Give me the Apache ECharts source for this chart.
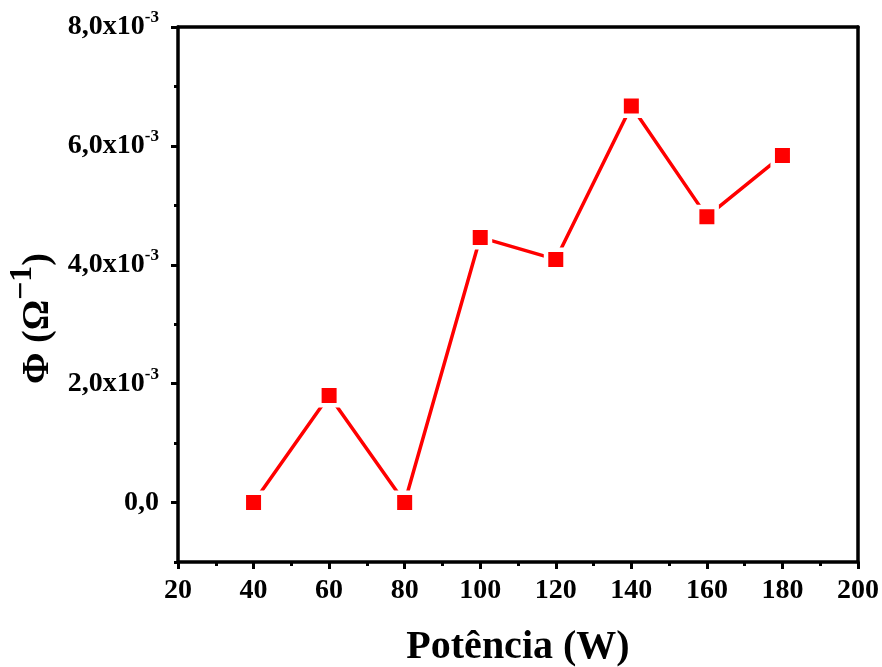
<!DOCTYPE html>
<html>
<head>
<meta charset="utf-8">
<script src="https://cdn.jsdelivr.net/npm/echarts@6/dist/echarts.min.js"></script>
<style>html,body{margin:0;padding:0;background:#fff}#c{width:882px;height:667px}</style>
</head>
<body>
<div id="c"></div>
<script>
const potencia = [40, 60, 80, 100, 120, 140, 160, 180];
const phi = [0.0, 1.80e-3, 0.0, 4.46e-3, 4.09e-3, 6.67e-3, 4.81e-3, 5.84e-3];
const yMajorTicks = [0, 2e-3, 4e-3, 6e-3, 8e-3];
const yMinorTicks = [-1e-3, 1e-3, 3e-3, 5e-3, 7e-3];
const yTickLabels = ['0,0', '2,0x10|-3', '4,0x10|-3', '6,0x10|-3', '8,0x10|-3'];

const FONT = '"Liberation Serif","Times New Roman",serif';
const chart = echarts.init(document.getElementById('c'));

function yFmt(v) {
  let idx = -1;
  for (let i = 0; i < yMajorTicks.length; i++) if (Math.abs(yMajorTicks[i] - v) < 1e-9) idx = i;
  if (idx < 0) return '';
  const parts = yTickLabels[idx].split('|');
  return parts.length > 1 ? '{b|' + parts[0] + '}{s|' + parts[1] + '}' : '{b|' + parts[0] + '}';
}

const lineW = 3.5;
chart.setOption({
  backgroundColor: '#fff',
  animation: false,
  grid: { left: 178, right: 24, top: 27, bottom: 105, containLabel: false, outerBoundsMode: 'none' },
  xAxis: [{
    type: 'value', min: 20, max: 200, interval: 20, position: 'bottom',
    axisLine: { show: true, onZero: false, lineStyle: { color: '#000', width: lineW } },
    axisTick: { show: true, inside: false, length: 7, lineStyle: { color: '#000', width: 3 } },
    minorTick: { show: true, splitNumber: 2, length: 4, lineStyle: { color: '#000', width: 3 } },
    splitLine: { show: false },
    axisLabel: { margin: 15, color: '#000', fontFamily: FONT, fontWeight: 'bold', fontSize: 28 },
    name: 'Potência (W)', nameLocation: 'middle', nameGap: 66,
    nameTextStyle: { color: '#000', fontFamily: FONT, fontWeight: 'bold', fontSize: 40 }
  }, {
    type: 'value', min: 20, max: 200, interval: 20, position: 'top',
    axisLine: { show: true, onZero: false, lineStyle: { color: '#000', width: lineW } },
    axisTick: { show: false }, axisLabel: { show: false }, splitLine: { show: false }
  }],
  yAxis: [{
    type: 'value', min: -1e-3, max: 8e-3, position: 'left',
    axisLine: { show: true, onZero: false, lineStyle: { color: '#000', width: lineW } },
    axisTick: { show: true, length: 7, customValues: yMajorTicks, lineStyle: { color: '#000', width: 3 } },
    splitLine: { show: false },
    axisLabel: {
      customValues: yMajorTicks, margin: 19, formatter: yFmt,
      rich: {
        b: { color: '#000', fontFamily: FONT, fontWeight: 'bold', fontSize: 28 },
        s: { color: '#000', fontFamily: FONT, fontWeight: 'bold', fontSize: 17, verticalAlign: 'top', padding: [0, 0, 18, 0] }
      }
    },
    name: '{a|Φ (Ω}{s|−1}{a|)}', nameLocation: 'middle', nameGap: 104, nameRotate: 90,
    nameTextStyle: {
      padding: [0, 48, 0, 0],
      rich: {
        a: { color: '#000', fontFamily: FONT, fontWeight: 'bold', fontSize: 38 },
        s: { color: '#000', fontFamily: FONT, fontWeight: 'bold', fontSize: 32, padding: [0, 0, 30, 0] }
      }
    }
  }, {
    type: 'value', min: -1e-3, max: 8e-3, position: 'left',
    axisLine: { show: false },
    axisTick: { show: true, length: 4, customValues: yMinorTicks, lineStyle: { color: '#000', width: 3 } },
    axisLabel: { show: false }, splitLine: { show: false }
  }, {
    type: 'value', min: -1e-3, max: 8e-3, position: 'right',
    axisLine: { show: true, onZero: false, lineStyle: { color: '#000', width: lineW } },
    axisTick: { show: false }, axisLabel: { show: false }, splitLine: { show: false }
  }],
  series: [{
    type: 'line',
    data: potencia.map((x, i) => [x, phi[i]]),
    symbol: 'rect', symbolSize: 19.5,
    lineStyle: { color: '#ff0000', width: 3.5 },
    itemStyle: { color: '#ff0000', borderColor: '#fff', borderWidth: 4.5 },
    z: 5
  }]
});
</script>
</body>
</html>
